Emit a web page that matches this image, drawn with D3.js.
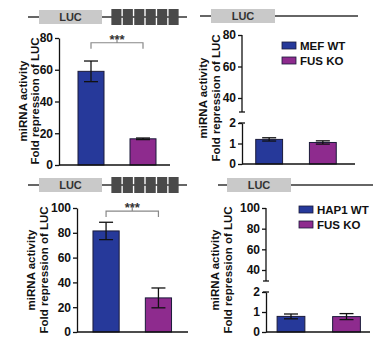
<!DOCTYPE html>
<html>
<head>
<meta charset="utf-8">
<script src="https://cdn.jsdelivr.net/npm/d3@7"></script>
<style>
  body { margin: 0; background: #fff; }
  svg { display: block; }
  text { font-family: "Liberation Sans", Arial, sans-serif; font-weight: bold; fill: #111; }
</style>
</head>
<body>
<div id="chart"></div>
<script>
// data
const groups = ["WT", "KO"];
const mefLegend = ["MEF WT", "FUS KO"];
const hapLegend = ["HAP1 WT", "FUS KO"];
const mefTarget = [59, 16.5];
const mefTargetErr = [6.5, 0.5];
const mefControl = [1.2, 1.05];
const mefControlErr = [0.08, 0.08];
const hapTarget = [81.5, 27.5];
const hapTargetErr = [7, 8];
const hapControl = [0.78, 0.77];
const hapControlErr = [0.12, 0.15];
const ticks80 = [0, 20, 40, 60, 80];
const ticks100 = [0, 20, 40, 60, 80, 100];
const upperTicks80 = [40, 60, 80];
const upperTicks100 = [40, 60, 80, 100];
const lowerTicks = [0, 1, 2];
const yLabel = ["miRNA activity", "Fold repression of LUC"];
const sites = [1, 2, 3, 4, 5, 6];
const colors = ["#26399a", "#8e2b8e"];

const svg = d3.select("#chart").append("svg")
    .attr("width", 380)
    .attr("height", 350);

// gene construct on top of each panel
function drawConstruct(c) {
    const g = svg.append("g");
    g.append("line")
        .attr("x1", c.x1).attr("x2", c.x2)
        .attr("y1", c.lineY).attr("y2", c.lineY)
        .attr("stroke", "#333").attr("stroke-width", 1.5);
    g.append("rect")
        .attr("x", c.lucX1).attr("width", c.lucX2 - c.lucX1)
        .attr("y", c.lineY - 7).attr("height", 14)
        .attr("fill", "#c9c9c9");
    g.append("text")
        .attr("x", (c.lucX1 + c.lucX2) / 2)
        .attr("y", c.lineY + 4)
        .attr("text-anchor", "middle")
        .style("font-size", "11px")
        .style("fill", "#333")
        .text("LUC");
    if (c.sitesX1) {
        const s = d3.scaleBand().domain(sites).range([c.sitesX1, c.sitesX2]).padding(0.12);
        g.selectAll(".site").data(sites).enter().append("rect")
            .attr("x", d => s(d)).attr("width", s.bandwidth())
            .attr("y", c.lineY - 8).attr("height", 16)
            .attr("fill", "#4a4a4a");
    }
}

function drawYLabel(x, cy) {
    yLabel.forEach((t, i) => {
        svg.append("text")
            .attr("transform", `translate(${x + i * 12.5},${cy}) rotate(-90)`)
            .attr("text-anchor", "middle")
            .attr("dy", "0.35em")
            .style("font-size", "11.5px")
            .text(t);
    });
}

function styleAxis(a) {
    a.selectAll("text").style("font-size", "12px");
    a.selectAll("line, path").attr("stroke", "#111").attr("stroke-width", 1.3);
}

function drawBars(x, y, means, errs) {
    svg.selectAll(null).data(groups).enter().append("rect")
        .attr("x", d => x(d))
        .attr("width", x.bandwidth())
        .attr("y", (d, i) => y(means[i]))
        .attr("height", (d, i) => y(0) - y(means[i]))
        .attr("fill", (d, i) => colors[i])
        .attr("stroke", "#1b1b3a")
        .attr("stroke-width", 1);
    const cap = 7;
    groups.forEach((d, i) => {
        const cx = x(d) + x.bandwidth() / 2;
        const g = svg.append("g").attr("stroke", "#111").attr("stroke-width", 1.3);
        g.append("line").attr("x1", cx).attr("x2", cx)
            .attr("y1", y(means[i] - errs[i])).attr("y2", y(means[i] + errs[i]));
        g.append("line").attr("x1", cx - cap).attr("x2", cx + cap)
            .attr("y1", y(means[i] + errs[i])).attr("y2", y(means[i] + errs[i]));
        g.append("line").attr("x1", cx - cap).attr("x2", cx + cap)
            .attr("y1", y(means[i] - errs[i])).attr("y2", y(means[i] - errs[i]));
    });
}

function drawXAxis(y, x0, x1) {
    svg.append("line")
        .attr("x1", x0).attr("x2", x1)
        .attr("y1", y(0)).attr("y2", y(0))
        .attr("stroke", "#111").attr("stroke-width", 1.3);
}

function drawBracket(x, yPos) {
    const xa = x(groups[0]) + x.bandwidth() / 2;
    const xb = x(groups[1]) + x.bandwidth() / 2;
    svg.append("path")
        .attr("d", `M${xa},${yPos + 6}V${yPos}H${xb}V${yPos + 6}M${(xa + xb) / 2},${yPos}V${yPos - 4}`)
        .attr("fill", "none")
        .attr("stroke", "#888")
        .attr("stroke-width", 1.2);
    svg.append("text")
        .attr("x", (xa + xb) / 2)
        .attr("y", yPos + 1)
        .attr("text-anchor", "middle")
        .style("font-size", "13px")
        .style("fill", "#333")
        .text("***");
}

function drawLegend(labels, x0, y0) {
    labels.forEach((t, i) => {
        svg.append("rect")
            .attr("x", x0).attr("y", y0 + i * 15)
            .attr("width", 14).attr("height", 7)
            .attr("fill", colors[i])
            .attr("stroke", "#1b1b3a").attr("stroke-width", 0.8);
        svg.append("text")
            .attr("x", x0 + 18).attr("y", y0 + i * 15 + 8)
            .style("font-size", "11.5px")
            .text(t);
    });
}

// simple panel with one continuous y axis
function simplePanel(p) {
    const y = d3.scaleLinear().domain([0, d3.max(p.ticks)]).range([p.y0, p.yTop]);
    const x = d3.scaleBand().domain(groups).range(p.band).paddingInner(0.5).paddingOuter(0.2);
    drawBars(x, y, p.means, p.errs);
    drawXAxis(y, p.axisX, p.xEnd);
    const a = svg.append("g")
        .attr("transform", `translate(${p.axisX},0)`)
        .call(d3.axisLeft(y).tickValues(p.ticks).tickSize(4).tickSizeOuter(0).tickPadding(2));
    styleAxis(a);
    drawBracket(x, y(p.bracketAt));
}

// panel with broken y axis
function brokenPanel(p) {
    const yLow = d3.scaleLinear().domain([0, 2]).range([p.y0, p.lowTop]);
    const yUp = d3.scaleLinear().domain([40, d3.max(p.upTicks)]).range([p.up40, p.upTop]);
    const x = d3.scaleBand().domain(groups).range(p.band).paddingInner(0.5).paddingOuter(0.2);
    drawBars(x, yLow, p.means, p.errs);
    drawXAxis(yLow, p.axisX, p.xEnd);
    const a1 = svg.append("g")
        .attr("transform", `translate(${p.axisX},0)`)
        .call(d3.axisLeft(yLow).tickValues(lowerTicks).tickFormat(d3.format("d"))
            .tickSize(4).tickSizeOuter(0).tickPadding(2));
    styleAxis(a1);
    const a2 = svg.append("g")
        .attr("transform", `translate(${p.axisX},0)`)
        .call(d3.axisLeft(yUp).tickValues(p.upTicks).tickSize(4).tickSizeOuter(0).tickPadding(2));
    a2.select(".domain").remove();
    styleAxis(a2);
    const brk = svg.append("g").attr("stroke", "#111").attr("stroke-width", 1.3);
    brk.append("line").attr("x1", p.axisX).attr("x2", p.axisX)
        .attr("y1", yUp(d3.max(p.upTicks))).attr("y2", p.upEnd);
    brk.append("line").attr("x1", p.axisX - 3).attr("x2", p.axisX + 3)
        .attr("y1", p.upEnd).attr("y2", p.upEnd);
    brk.append("line").attr("x1", p.axisX - 3).attr("x2", p.axisX + 3)
        .attr("y1", yLow(2)).attr("y2", yLow(2));
    drawLegend(p.legend, p.legX, p.legY);
}

drawConstruct({ lineY: 17, x1: 28, x2: 187, lucX1: 39, lucX2: 102, sitesX1: 110, sitesX2: 180 });
drawConstruct({ lineY: 16, x1: 200, x2: 358, lucX1: 211, lucX2: 275 });
drawConstruct({ lineY: 185, x1: 28, x2: 187, lucX1: 39, lucX2: 102, sitesX1: 110, sitesX2: 180 });
drawConstruct({ lineY: 185, x1: 218, x2: 373, lucX1: 227, lucX2: 291 });

simplePanel({ means: mefTarget, errs: mefTargetErr, ticks: ticks80, y0: 165, yTop: 38,
    band: [67.6, 166.4], axisX: 59, xEnd: 170, bracketAt: 77 });
simplePanel({ means: hapTarget, errs: hapTargetErr, ticks: ticks100, y0: 332, yTop: 208,
    band: [82.5, 182], axisX: 77, xEnd: 188, bracketAt: 97.5 });
brokenPanel({ means: mefControl, errs: mefControlErr, upTicks: upperTicks80, y0: 164, lowTop: 123,
    up40: 98, upTop: 35, upEnd: 112, band: [245, 347], axisX: 242, xEnd: 355,
    legend: mefLegend, legX: 282, legY: 42 });
brokenPanel({ means: hapControl, errs: hapControlErr, upTicks: upperTicks100, y0: 332, lowTop: 292,
    up40: 270, upTop: 208, upEnd: 281, band: [266, 371.5], axisX: 266, xEnd: 370,
    legend: hapLegend, legX: 299, legY: 206 });

drawYLabel(22.5, 101);
drawYLabel(203, 98);
drawYLabel(31, 270);
drawYLabel(215, 270);
</script>
</body>
</html>
